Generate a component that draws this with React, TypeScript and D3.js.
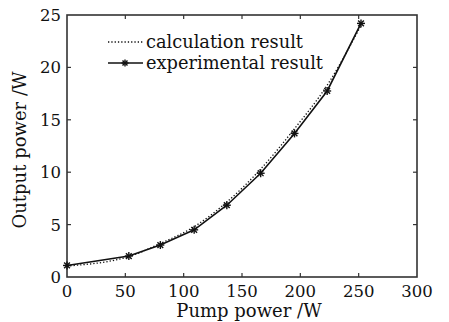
import * as d3 from 'd3';
import React from 'react';

// pump power (W) vs output power (W)
const pumpPower = [0, 53, 80, 109, 137, 166, 195, 223, 252];
const experimental = [1.1, 2.0, 3.05, 4.5, 6.85, 9.9, 13.7, 17.75, 24.2];
const calculation = [1.05, 1.95, 3.2, 4.8, 7.15, 10.3, 14.15, 18.3, 24.0];
const xTicks = [0, 50, 100, 150, 200, 250, 300];
const yTicks = [0, 5, 10, 15, 20, 25];

const width = 449;
const height = 322;
const margin = { top: 15, right: 32, bottom: 45, left: 67 };
const font = '"DejaVu Serif", "Liberation Serif", serif';

const Star = ({ x, y, r = 4 }: { x: number; y: number; r?: number }) => {
  const d = r * 0.72;
  return (
    <g stroke="#111" strokeWidth={1.4}>
      <line x1={x - r} y1={y} x2={x + r} y2={y} />
      <line x1={x} y1={y - r} x2={x} y2={y + r} />
      <line x1={x - d} y1={y - d} x2={x + d} y2={y + d} />
      <line x1={x - d} y1={y + d} x2={x + d} y2={y - d} />
    </g>
  );
};

const App = () => {
  const x = d3
    .scaleLinear()
    .domain([0, 300])
    .range([margin.left, width - margin.right]);
  const y = d3
    .scaleLinear()
    .domain([0, 25])
    .range([height - margin.bottom, margin.top]);

  const line = d3
    .line<number>()
    .x((d, i) => x(pumpPower[i]))
    .y(d => y(d));
  const calcLine = d3
    .line<number>()
    .x((d, i) => x(pumpPower[i]))
    .y(d => y(d))
    .curve(d3.curveMonotoneX);

  const x0 = x(0);
  const x1 = x(300);
  const y0 = y(0);
  const y1 = y(25);
  const tick = 4;

  return (
    <svg
      width={width}
      height={height}
      style={{ position: 'absolute', left: 0, top: 0, background: '#fff' }}
      fontFamily={font}
    >
      <rect x={0} y={0} width={width} height={height} fill="#fff" />

      {/* ticks on all four sides */}
      <g stroke="#333" strokeWidth={1.2}>
        {xTicks.slice(1, -1).map(t => (
          <g key={'xt' + t}>
            <line x1={x(t)} x2={x(t)} y1={y0} y2={y0 - tick} />
            <line x1={x(t)} x2={x(t)} y1={y1} y2={y1 + tick} />
          </g>
        ))}
        {yTicks.slice(1, -1).map(t => (
          <g key={'yt' + t}>
            <line x1={x0} x2={x0 + tick} y1={y(t)} y2={y(t)} />
            <line x1={x1} x2={x1 - tick} y1={y(t)} y2={y(t)} />
          </g>
        ))}
      </g>
      <rect
        x={x0}
        y={y1}
        width={x1 - x0}
        height={y0 - y1}
        fill="none"
        stroke="#333"
        strokeWidth={1.6}
      />

      {/* tick labels */}
      <g fontSize={16.5} fill="#111">
        {xTicks.map(t => (
          <text key={'xl' + t} x={x(t)} y={y0 + 20} textAnchor="middle">
            {t}
          </text>
        ))}
        {yTicks.map(t => (
          <text key={'yl' + t} x={x0 - 6} y={y(t) + 6} textAnchor="end">
            {t}
          </text>
        ))}
      </g>

      {/* axis titles */}
      <text
        x={(x0 + x1) / 2 + 7}
        y={height - 5}
        textAnchor="middle"
        fontSize={18}
        fill="#111"
      >
        Pump power /W
      </text>
      <text
        transform={`translate(26, ${(y0 + y1) / 2 + 4}) rotate(-90)`}
        textAnchor="middle"
        fontSize={18}
        fill="#111"
      >
        Output power /W
      </text>

      {/* series */}
      <path
        d={calcLine(calculation) || ''}
        fill="none"
        stroke="#111"
        strokeWidth={1.3}
        strokeDasharray="1.3 2"
      />
      <path
        d={line(experimental) || ''}
        fill="none"
        stroke="#111"
        strokeWidth={1.6}
      />
      {experimental.map((v, i) => (
        <Star key={'m' + i} x={x(pumpPower[i])} y={y(v)} />
      ))}

      {/* legend */}
      <line
        x1={108}
        x2={143}
        y1={42}
        y2={42}
        stroke="#111"
        strokeWidth={1.3}
        strokeDasharray="1.3 2"
      />
      <text x={146} y={48} fontSize={17.8} fill="#111">
        calculation result
      </text>
      <line x1={108} x2={143} y1={63} y2={63} stroke="#111" strokeWidth={1.6} />
      <Star x={125} y={63} r={3.5} />
      <text x={146} y={69} fontSize={17.8} fill="#111">
        experimental result
      </text>
    </svg>
  );
};

export default App;
